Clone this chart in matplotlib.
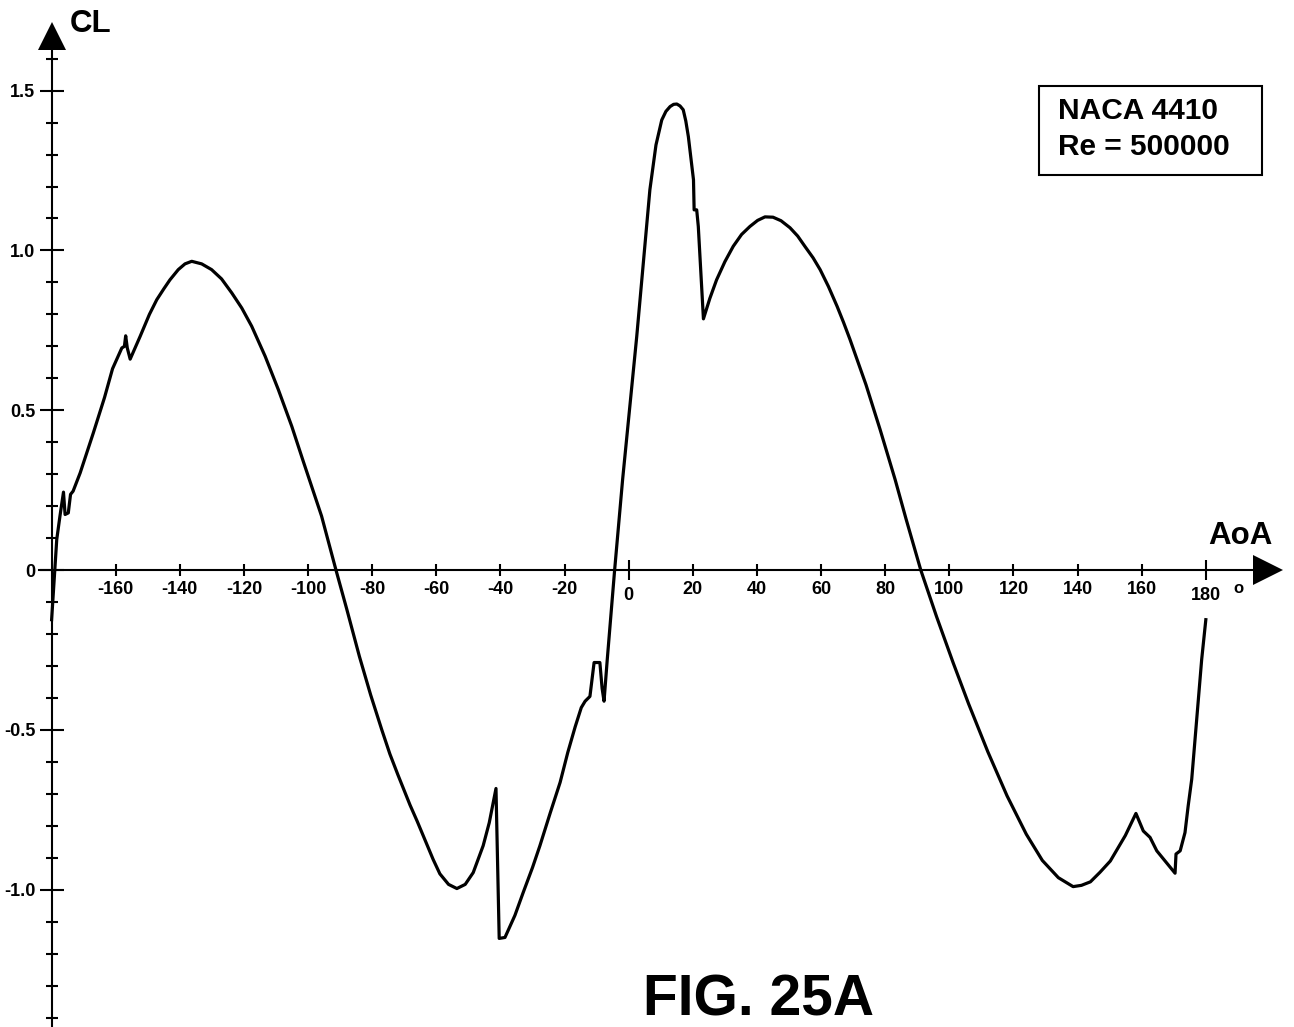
import numpy as np
import matplotlib.pyplot as plt
from matplotlib.transforms import offset_copy
from matplotlib.patches import Rectangle

plt.rcParams['font.family'] = ['Liberation Sans', 'DejaVu Sans']
plt.rcParams['font.weight'] = 'bold'

# lift coefficient of NACA 4410, Re = 500000
aoa = [-180, -179.0, -178.4, -177.4, -176.3, -175.8, -174.8, -174.1, -173.3,
       -171.1, -167.0, -163.5, -161.0, -158.1, -157.3, -156.9, -156.4, -155.5,
       -152.4, -149.5, -147.2, -145.0, -143.1, -140.5, -138.4, -136.3, -133.2,
       -130.1, -127.0, -123.8, -120.7, -117.6, -113.4, -109.3, -105.1, -101.5,
       -95.8, -91.3, -88.0, -84.0, -80.5, -77.0, -74.5, -72.0, -70.0, -68.2,
       -66.0, -63.5, -61.0, -58.9, -56.2, -53.6, -51.0, -48.5, -45.4, -43.5,
       -41.4, -40.4, -38.6, -35.5, -32.9, -30.0, -27.7, -24.5, -21.4, -19.0,
       -16.7, -14.8, -13.6, -12.1, -10.8, -9.0, -8.3, -7.7, -6.7, -4.4, -1.9,
       2.5, 6.6, 8.5, 10.3, 11.6, 12.9, 14.0, 15.0, 16.0, 17.0, 17.8, 18.6,
       20.2, 20.4, 21.2, 21.7, 23.3, 25.3, 27.4, 30.0, 32.6, 35.2, 37.8, 40.2,
       42.5, 45.0, 47.5, 50.3, 52.7, 55.0, 57.5, 59.7, 62.3, 65.0, 67.0, 69.0,
       74.0, 78.4, 83.1, 86.5, 91.1, 96.0, 101.2, 106.0, 112.0, 118.0, 124.0,
       129.0, 134.0, 138.6, 141.2, 144.0, 147.0, 150.2, 154.9, 158.2, 160.5,
       162.6, 164.7, 170.4, 170.7, 172.0, 173.5, 174.5, 175.6, 178.7, 180.0]
cl = [-0.155, 0.0, 0.096, 0.169, 0.244, 0.174, 0.179, 0.237, 0.247,
      0.304, 0.429, 0.54, 0.63, 0.695, 0.70, 0.733, 0.695, 0.66,
      0.731, 0.80, 0.846, 0.88, 0.908, 0.94, 0.958, 0.966, 0.958,
      0.94, 0.911, 0.867, 0.82, 0.763, 0.669, 0.565, 0.45, 0.34,
      0.169, 0.0, -0.12, -0.27, -0.39, -0.50, -0.575, -0.64, -0.69, -0.735,
      -0.785, -0.845, -0.905, -0.95, -0.983, -0.996, -0.983, -0.946, -0.862, -0.79,
      -0.683, -1.152, -1.149, -1.08, -1.008, -0.93, -0.862, -0.76, -0.664, -0.57,
      -0.49, -0.43, -0.41, -0.395, -0.289, -0.289, -0.37, -0.41, -0.28, 0.0, 0.284,
      0.731, 1.19, 1.33, 1.408, 1.435, 1.45, 1.457, 1.458, 1.452, 1.44, 1.405, 1.356,
      1.221, 1.127, 1.127, 1.075, 0.786, 0.85, 0.908, 0.965, 1.013, 1.05, 1.075, 1.094,
      1.105, 1.104, 1.093, 1.071, 1.045, 1.012, 0.977, 0.94, 0.887, 0.825, 0.775, 0.722,
      0.58, 0.44, 0.283, 0.16, 0.0, -0.145, -0.29, -0.418, -0.568, -0.706, -0.826,
      -0.908, -0.962, -0.99, -0.986, -0.975, -0.945, -0.91, -0.83, -0.761, -0.816,
      -0.836, -0.878, -0.948, -0.888, -0.878, -0.821, -0.737, -0.654, -0.28, -0.155]

x_ticks = [-160, -140, -120, -100, -80, -60, -40, -20, 20, 40, 60, 80, 100, 120, 140, 160]
x_long_ticks = [0, 180]
x_labels = ['-160', '-140', '-120', '-100', '-80', '-60', '-40', '-20',
            '20', '40', '60', '80', '100', '120', '140', '160']
y_ticks = [-1.0, -0.5, 0, 0.5, 1.0, 1.5]
y_labels = ['-1.0', '-0.5', '0', '0.5', '1.0', '1.5']
y_minor = np.round(np.arange(-1.4, 1.61, 0.1), 2)

W, H = 1294, 1027
fig = plt.figure(figsize=(W / 100, H / 100), dpi=100)
ax = fig.add_axes([0, 0, 1, 1])
ax.set_xlim(-196.1, 207.5)
ax.set_ylim(-1.4291, 1.7834)

ax.plot(aoa, cl, color='black', lw=2.3, solid_joinstyle='round')

# axes through the origin, with arrows
for s in ['top', 'right']:
    ax.spines[s].set_visible(False)
ax.spines['left'].set_position(('data', -180))
ax.spines['bottom'].set_position(('data', 0))
ax.spines['left'].set_bounds(-1.45, 1.63)
ax.spines['bottom'].set_bounds(-183.8, 195)
for s in ['left', 'bottom']:
    ax.spines[s].set_linewidth(1.5)
ax.plot([199.4], [0], marker='>', ms=21.6, mew=0, color='black', clip_on=False)
ax.plot([-180], [1.671], marker='^', ms=20.5, mew=0, color='black', clip_on=False)

# y ticks
ax.set_yticks(y_ticks, y_labels, fontsize=13, fontweight='bold')
ax.set_yticks(y_minor, minor=True)
ax.tick_params(axis='y', which='major', direction='inout', length=17.3, width=1.5, pad=3.0)
ax.tick_params(axis='y', which='minor', direction='inout', length=8.6, width=1.5)

# x ticks
ax.set_xticks(x_ticks)
ax.set_xticks(x_long_ticks, minor=True)
ax.tick_params(axis='x', which='major', direction='inout', length=8.6, width=1.5,
               labelbottom=False)
ax.tick_params(axis='x', which='minor', direction='inout', length=14.4, width=1.5,
               labelbottom=False)

trans = offset_copy(ax.transData, fig=fig, y=-11, units='dots')
for xv, lab in zip(x_ticks, x_labels):
    ax.text(xv, 0, lab, transform=trans, ha='center', va='top', fontsize=13)
trans_low = offset_copy(ax.transData, fig=fig, y=-16.5, units='dots')
for xv in x_long_ticks:
    ax.text(xv, 0, str(xv), transform=trans_low, ha='center', va='top', fontsize=13)

# annotations (pixel positions converted to figure fractions)
def fx(px):
    return px / W

def fy(py):
    return 1 - py / H

fig.text(fx(1238.5), fy(588.7), 'o', ha='center', va='center', fontsize=12)
fig.text(fx(70), fy(32), 'CL', ha='left', va='baseline', fontsize=22.5)
fig.text(fx(1208), fy(544), 'AoA', ha='left', va='baseline', fontsize=22.5)
fig.text(fx(643), fy(1015), 'FIG. 25A', ha='left', va='baseline', fontsize=41)

fig.add_artist(Rectangle((fx(1039.3), fy(175)), fx(1262.3) - fx(1039.3), fy(85.7) - fy(175),
                         transform=fig.transFigure, fill=False, lw=1.5, ec='black'))
fig.text(fx(1058), fy(119.3), 'NACA 4410', ha='left', va='baseline', fontsize=21.5)
fig.text(fx(1058), fy(155), 'Re = 500000', ha='left', va='baseline', fontsize=21.5)

fig.savefig('out.png', dpi=100)
